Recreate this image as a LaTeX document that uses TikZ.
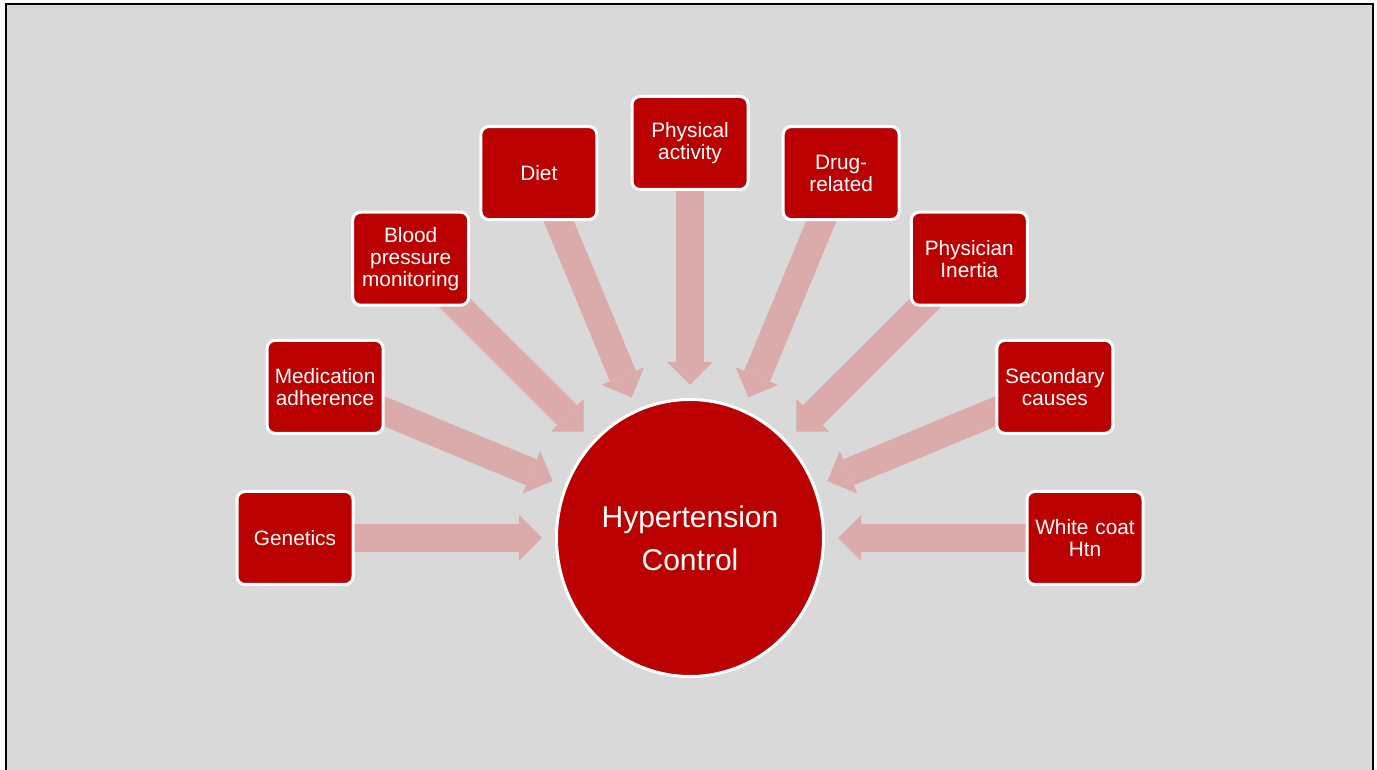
\documentclass[tikz,border=0pt]{standalone}
\usepackage{fontspec}
\setmainfont{Liberation Sans}
\usetikzlibrary{arrows.meta, backgrounds, shapes.geometric}
\definecolor{slide}{HTML}{D9D9D9}
\definecolor{boxred}{HTML}{BA0000}
\definecolor{flowpink}{HTML}{DBABAB}
\tikzset{
  frame/.style={draw=black, line width=2pt, fill=slide},
  factor/.style={draw=white, line width=3pt, fill=boxred, rounded corners=8pt,
    minimum width=116pt, minimum height=93pt, inner sep=0pt, text width=108pt,
    align=center, text=white, font=\fontsize{20.8}{22}\selectfont},
  hub/.style={ellipse, draw=white, line width=3pt, fill=boxred,
    minimum width=267pt, minimum height=277pt,
    align=center, text=white, font=\fontsize{30}{43}\selectfont},
  flow/.style={draw=flowpink, line width=28pt,
    -{Triangle[width=46pt, length=23pt, line width=0pt]},
    shorten >=13pt, shorten <=-30pt}
}

\begin{document}
\begin{tikzpicture}[x=1pt, y=1pt]

  % ---- Slide ---------------------------------------------------------------
  \useasboundingbox (0, 0) rectangle (1377, 770);
  \clip (0, 0) rectangle (1377, 770);
  \begin{scope}[on background layer]
    \draw[frame] (6, -20) rectangle (1373, 766);
  \end{scope}

  % ---- Centre --------------------------------------------------------------
  \node[hub] (htn) at (690, 232) {Hypertension\\Control};

  % ---- Factors, on an arc round the centre ---------------------------------
  \node[factor] (genetics)  at ([shift={(180:395)}]htn)   {Genetics};
  \node[factor] (medadh)    at ([shift={(157.5:395)}]htn) {Medication\\adherence};
  \node[factor] (bpmon)     at ([shift={(135:395)}]htn)   {Blood\\pressure\\monitoring};
  \node[factor] (diet)      at ([shift={(112.5:395)}]htn) {Diet};
  \node[factor] (physact)   at ([shift={(90:395)}]htn)    {Physical\\activity};
  \node[factor] (drugrel)   at ([shift={(67.5:395)}]htn)  {Drug-\\related};
  \node[factor] (physin)    at ([shift={(45:395)}]htn)    {Physician\\Inertia};
  \node[factor] (seccause)  at ([shift={(22.5:395)}]htn)  {Secondary\\causes};
  \node[factor] (whitecoat) at ([shift={(0:395)}]htn)     {White coat\\Htn};

  % ---- Block arrows (under the boxes) --------------------------------------
  \begin{scope}[on background layer]
    \foreach \src in {genetics, medadh, bpmon, diet, physact, drugrel, physin, seccause, whitecoat}
      \draw[flow] (\src) -- (htn);
  \end{scope}

\end{tikzpicture}
\end{document}
